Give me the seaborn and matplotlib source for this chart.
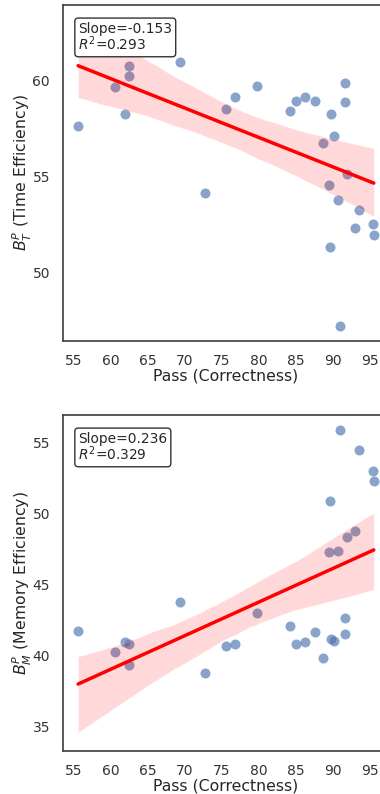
import numpy as np
import pandas as pd
import matplotlib
matplotlib.use("Agg")
import matplotlib.pyplot as plt
from matplotlib.ticker import MultipleLocator
import seaborn as sns

# values
pass_rate = [55.63, 60.67, 61.97, 62.56, 62.56, 69.35, 72.77, 75.56, 76.77, 79.83,
             84.28, 85.13, 86.27, 87.66, 88.74, 89.55, 89.72, 89.86, 90.18, 90.80,
             91.07, 91.70, 91.70, 91.94, 93.10, 93.64, 95.49, 95.58]
time_eff = [57.66, 59.66, 58.27, 60.75, 60.24, 60.96, 54.15, 58.54, 59.13, 59.74,
            58.44, 58.94, 59.13, 58.94, 56.76, 54.55, 51.34, 58.25, 57.14, 53.80,
            47.24, 59.86, 58.87, 55.16, 52.34, 53.25, 52.55, 51.95]
mem_eff = [41.76, 40.26, 40.96, 40.85, 39.37, 43.76, 38.76, 40.66, 40.85, 42.99,
           42.07, 40.85, 40.96, 41.67, 39.86, 47.30, 50.90, 41.15, 41.06, 47.39,
           55.92, 42.68, 41.55, 48.38, 48.78, 54.51, 53.00, 52.30]

panels = [
    ("time", r"$B_T^P$ (Time Efficiency)", "Slope=-0.153\n$R^2$=0.293", (46.44, 63.96)),
    ("mem", r"$B_M^P$ (Memory Efficiency)", "Slope=0.236\n$R^2$=0.329", (33.29, 56.97)),
]

df = pd.DataFrame({"pass": pass_rate, "time": time_eff, "mem": mem_eff})

sns.set_theme(style="white")
plt.rcParams["font.family"] = ["DejaVu Sans"]

fig = plt.figure(figsize=(3.8, 7.94), dpi=100)
axes = [fig.add_axes([0.1666, 0.5705, 0.856, 0.4236]),
        fig.add_axes([0.1666, 0.0542, 0.856, 0.4235])]

for ax, (col, ylabel, note, ylim) in zip(axes, panels):
    sns.regplot(data=df, x="pass", y=col, ax=ax, seed=3,
                scatter_kws={"s": 52, "alpha": 0.65, "color": "#4c72b0", "linewidths": 0},
                line_kws={"color": "red", "lw": 2.5})
    ax.set_xlim(53.63, 97.58)
    ax.set_ylim(*ylim)
    ax.set_xticks(range(55, 100, 5))
    ax.yaxis.set_major_locator(MultipleLocator(5))
    ax.set_xlabel("Pass (Correctness)", fontsize=11.3, labelpad=0)
    ax.set_ylabel(ylabel, fontsize=11.3, labelpad=-1)
    ax.tick_params(labelsize=10, colors="#333333")
    ax.text(0.046, 0.95, note, transform=ax.transAxes, fontsize=9.9,
            va="top", ha="left", linespacing=0.95,
            bbox=dict(boxstyle="round,pad=0.25", facecolor="white", edgecolor="#333333"))
    for s in ax.spines.values():
        s.set_color("#444444")

fig.savefig("out.png", dpi=100)
